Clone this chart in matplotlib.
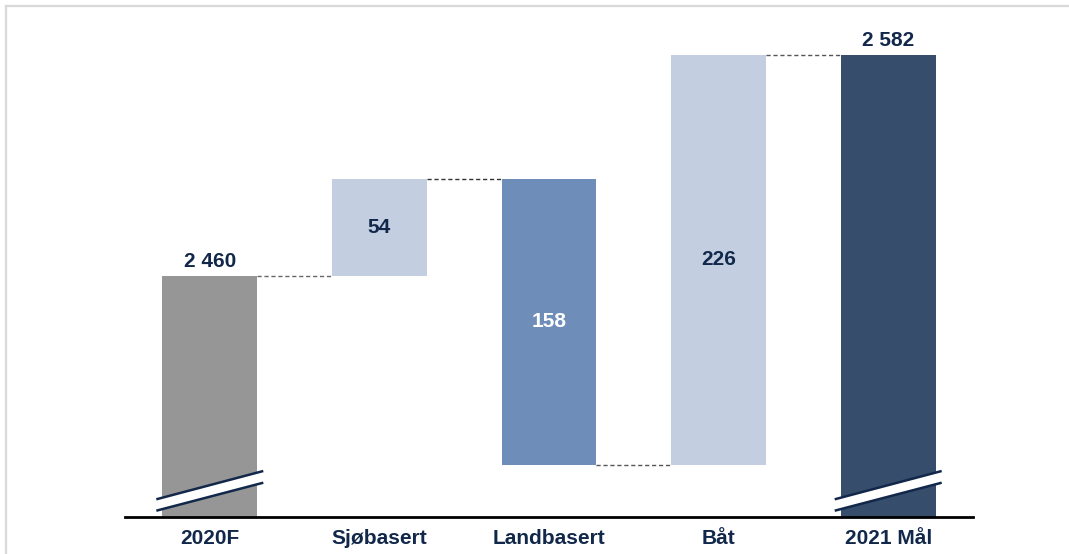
import matplotlib
matplotlib.use("Agg")
import matplotlib.pyplot as plt
from matplotlib.lines import Line2D
from matplotlib.patches import Polygon

categories = ["2020F", "Sjøbasert", "Landbasert", "Båt", "2021 Mål"]
start_value = 2460
changes = [54, -158, 226]
end_value = 2582
labels = ["2 460", "54", "158", "226", "2 582"]
colors = ["#969696", "#c4cee1", "#6e8db9", "#c4cee1", "#374d6c"]
label_colors = ["#12284a", "#12284a", "#ffffff", "#12284a", "#12284a"]
y_min, y_max = 2327, 2601.6

navy = "#12284a"
plt.rcParams['font.family'] = ['Liberation Sans', 'DejaVu Sans']

fig = plt.figure(figsize=(10.69, 5.54), dpi=100)
ax = fig.add_axes([125/1069, 37/554, 848/1069, 497/554])
ax.set_xlim(-0.5, 4.5)
ax.set_ylim(y_min, y_max)

# compute waterfall segments
bottoms, tops = [], []
bottoms.append(y_min); tops.append(start_value)
level = start_value
for c in changes:
    new = level + c
    bottoms.append(min(level, new)); tops.append(max(level, new))
    level = new
bottoms.append(y_min); tops.append(end_value)

w = 0.56
xs = list(range(len(categories)))
for i, (b, t) in enumerate(zip(bottoms, tops)):
    ax.bar(i, t - b, bottom=b, width=w, color=colors[i], edgecolor='none', zorder=2)

# connectors
levels = [start_value]
lv = start_value
for c in changes:
    lv += c
    levels.append(lv)
conn_colors = ["#666666", "#333333", "#555555", "#555555"]
for i in range(len(categories) - 1):
    y = levels[i]
    ax.plot([i + w/2, i + 1 - w/2], [y, y], color=conn_colors[i], lw=1.0,
            ls=(0, (3, 2)), zorder=1)

# labels
for i in range(len(categories)):
    if i in (0, len(categories) - 1):
        ax.annotate(labels[i], (i, tops[i]), xytext=(0, 4), textcoords='offset points',
                    ha='center', va='bottom', fontsize=15, fontweight='bold',
                    color=label_colors[i])
    else:
        ax.text(i, (bottoms[i] + tops[i]) / 2, labels[i], ha='center', va='center',
                fontsize=15, fontweight='bold', color=label_colors[i])

# axis break marks on first and last bars
ppu = 1.81  # pixels per unit
ext = 6 / 169.6
for i in (0, len(categories) - 1):
    xl, xr = i - w/2 - ext, i + w/2 + ext
    up_l, up_r = y_min + 17.7/ppu, y_min + 46/ppu
    lo_l, lo_r = y_min + 6.3/ppu, y_min + 34.3/ppu
    ax.add_patch(Polygon([[xl, up_l], [xr, up_r], [xr, lo_r], [xl, lo_l]],
                         closed=True, facecolor='white', edgecolor='none', zorder=3,
                         clip_on=False))
    ax.plot([xl, xr], [up_l, up_r], color=navy, lw=1.8, zorder=4, clip_on=False,
            solid_capstyle='butt')
    ax.plot([xl, xr], [lo_l, lo_r], color=navy, lw=1.8, zorder=4, clip_on=False,
            solid_capstyle='butt')

for s in ['top', 'right', 'left']:
    ax.spines[s].set_visible(False)
ax.spines['bottom'].set_linewidth(2)
ax.spines['bottom'].set_color('black')
ax.set_yticks([])
ax.set_xticks(xs)
ax.set_xticklabels(categories, fontsize=15, fontweight='bold', color=navy)
ax.tick_params(axis='x', length=0, pad=9)

# figure border (top and left)
fig.add_artist(Line2D([6/1069, 1], [1 - 5.5/554, 1 - 5.5/554], color='#d9d9d9',
                      lw=1.6, transform=fig.transFigure))
fig.add_artist(Line2D([6/1069, 6/1069], [0, 1 - 5.5/554], color='#d9d9d9',
                      lw=1.6, transform=fig.transFigure))

fig.savefig("out.png", dpi=100)
